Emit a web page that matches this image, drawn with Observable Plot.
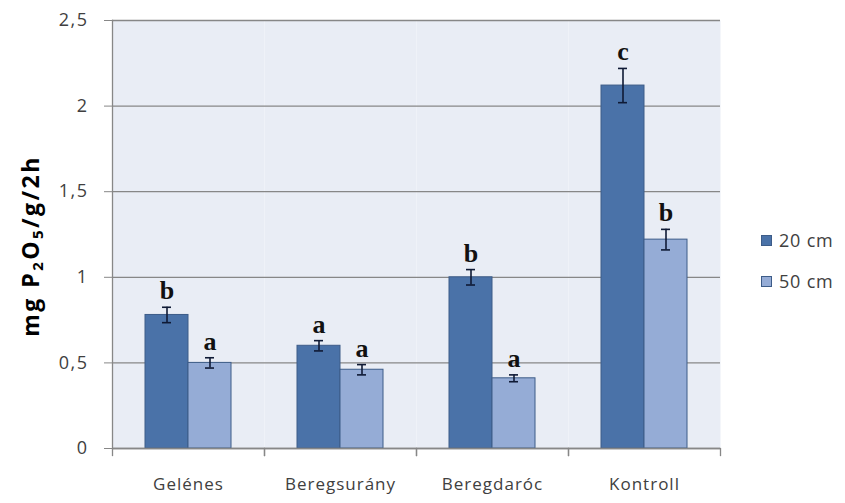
<!DOCTYPE html>
<html>
<head>
<meta charset="utf-8">
<script src="https://cdn.jsdelivr.net/npm/d3@7"></script>
<script src="https://cdn.jsdelivr.net/npm/@observablehq/plot@0.6"></script>
<style>
  body { margin: 0; background: #ffffff; }
  #wrap { position: relative; width: 845px; height: 503px; font-family: "Open Sans", sans-serif; }
  #ylabel { position: absolute; left: 30px; top: 246px; transform: translate(-50%, -50%) rotate(-90deg);
            font-weight: bold; font-size: 23px; letter-spacing: 2.5px; color: #000; white-space: nowrap; font-family: "Open Sans", sans-serif; }
  #ylabel sub { font-size: 15px; vertical-align: -4px; line-height: 0; }
  .leg { position: absolute; left: 761px; display: flex; align-items: center; font-size: 18px; letter-spacing: 0.8px; color: #404040; line-height: 22px; }
  .leg .sw { width: 9px; height: 9px; border: 1px solid #3d5c88; margin-right: 7px; }
  g[aria-label="y-axis tick label"] text { letter-spacing: 1.5px; }
  g[aria-label="fx-axis tick label"] text { letter-spacing: 1px; }
</style>
</head>
<body>
<div id="wrap">
  <div id="chart"></div>
  <div id="ylabel">mg P<sub>2</sub>O<sub>5</sub>/g/2h</div>
  <div id="legend"></div>
</div>
<script>
const categories = ["Gelénes", "Beregsurány", "Beregdaróc", "Kontroll"];
const seriesNames = ["20 cm", "50 cm"];
const values20 = [0.78, 0.60, 1.00, 2.12];
const values50 = [0.50, 0.46, 0.41, 1.22];
const errors20 = [0.045, 0.03, 0.045, 0.10];
const errors50 = [0.03, 0.03, 0.02, 0.06];
const letters20 = ["b", "a", "b", "c"];
const letters50 = ["a", "a", "a", "b"];
const yTicks = [0, 0.5, 1, 1.5, 2, 2.5];
const seriesColors = ["#4a72a8", "#95acd6"];

const data = [];
categories.forEach((c, i) => {
  data.push({cat: c, series: seriesNames[0], value: values20[i], err: errors20[i], letter: letters20[i]});
  data.push({cat: c, series: seriesNames[1], value: values50[i], err: errors50[i], letter: letters50[i]});
});

const gray = "#878787";
const chart = Plot.plot({
  width: 845,
  height: 503,
  marginLeft: 111,
  marginRight: 125,
  marginTop: 20,
  marginBottom: 55,
  style: {fontFamily: "Open Sans, sans-serif", fontSize: "16px", color: "#404040", background: "transparent"},
  fx: {domain: categories, padding: 0, label: null},
  x: {domain: seriesNames, paddingInner: 0, paddingOuter: 0.74, axis: null},
  y: {domain: [0, 2.5], label: null},
  color: {domain: seriesNames, range: seriesColors},
  marks: [
    Plot.frame({fill: "#e9edf5", stroke: null}),
    Plot.gridY(yTicks, {stroke: gray, strokeOpacity: 1, strokeWidth: 1.3}),
    Plot.barY(data, {fx: "cat", x: "series", y: "value", fill: "series", stroke: "#3d5c88", strokeWidth: 1}),
    Plot.ruleX(data, {fx: "cat", x: "series", y1: d => d.value - d.err, y2: d => d.value + d.err, stroke: "#0f1a35", strokeWidth: 1.6}),
    Plot.tickY(data, {fx: "cat", x: "series", y: d => d.value - d.err, stroke: "#0f1a35", strokeWidth: 1.6, insetLeft: 17, insetRight: 17}),
    Plot.tickY(data, {fx: "cat", x: "series", y: d => d.value + d.err, stroke: "#0f1a35", strokeWidth: 1.6, insetLeft: 17, insetRight: 17}),
    Plot.text(data, {fx: "cat", x: "series", y: d => d.value + d.err, text: "letter", dy: -8, lineAnchor: "bottom",
      fontFamily: "Liberation Serif, serif", fontWeight: "bold", fontSize: 26, fill: "#111111"}),
    Plot.ruleY([0], {stroke: gray, strokeWidth: 1.3}),
    Plot.frame({anchor: "left", stroke: gray, strokeWidth: 1.3, facetAnchor: "left"}),
    Plot.frame({anchor: "left", stroke: gray, strokeWidth: 1.3, insetTop: 428, insetBottom: -7}),
    Plot.frame({anchor: "right", stroke: gray, strokeWidth: 1.3, insetTop: 428, insetBottom: -7}),
    Plot.axisY(yTicks, {tickSize: 8, tickPadding: 16, stroke: gray, fill: "#404040", fontSize: 18,
      tickFormat: d => String(d).replace(".", ","), label: null}),
    Plot.axisFx({anchor: "bottom", tickSize: 0, tickPadding: 29, fontSize: 17, fill: "#404040", label: null})
  ]
});
document.getElementById("chart").appendChild(chart);

const legend = document.getElementById("legend");
seriesNames.forEach((s, i) => {
  const item = document.createElement("div");
  item.className = "leg";
  item.style.top = (229 + i * 41) + "px";
  const sw = document.createElement("div");
  sw.className = "sw";
  sw.style.background = seriesColors[i];
  const t = document.createElement("span");
  t.textContent = s;
  item.appendChild(sw);
  item.appendChild(t);
  legend.appendChild(item);
});
</script>
</body>
</html>
